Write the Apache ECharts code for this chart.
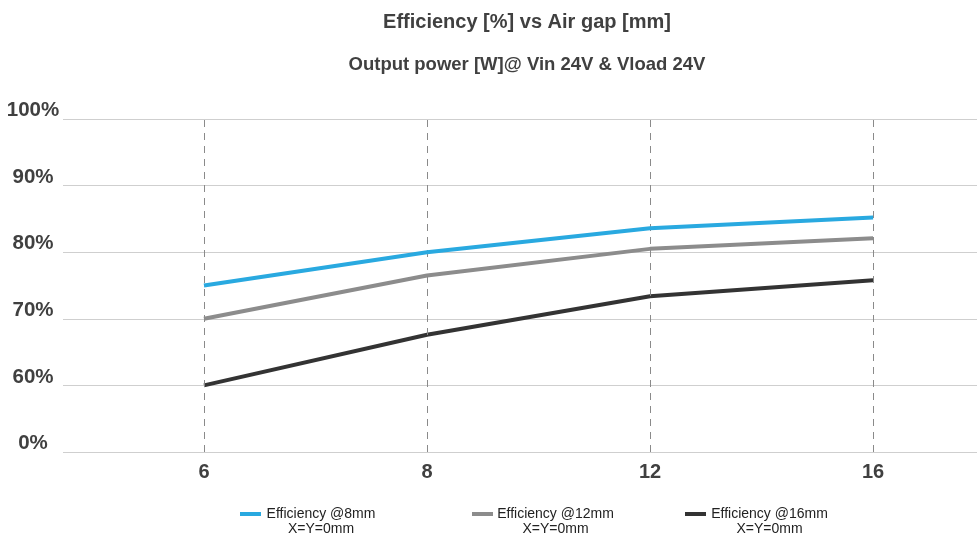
<!DOCTYPE html>
<html>
<head>
<meta charset="utf-8">
<script src="https://cdn.jsdelivr.net/npm/echarts@6/dist/echarts.min.js"></script>
<style>html,body{margin:0;padding:0;background:#fff}#c{width:977px;height:538px}</style>
</head>
<body>
<div id="c"></div>
<script>
var categories = ['6', '8', '12', '16'];
var seriesNames = ['Efficiency @8mm', 'Efficiency @12mm', 'Efficiency @16mm'];
var legendSubLine = 'X=Y=0mm';
var eff8 = [75, 80, 83.6, 85.2];
var eff12 = [70, 76.5, 80.5, 82.1];
var eff16 = [60, 67.6, 73.4, 75.8];
var yTicks = [50, 60, 70, 80, 90, 100];
var yTickLabels = ['0%', '60%', '70%', '80%', '90%', '100%'];

var FONT = "'Liberation Sans', Arial, sans-serif";
var colors = ['#29a9e0', '#8c8c8c', '#333333'];
var legendLeft = [240, 472, 685];
var legendTextWidth = [110, 115, 117];

function pts(arr) { return arr.map(function (v, i) { return [i, v]; }); }

var chart = echarts.init(document.getElementById('c'));
var dataSets = [eff8, eff12, eff16];
var series = dataSets.map(function (d, k) {
  var s = {
    name: seriesNames[k],
    type: 'line',
    data: pts(d),
    symbol: 'none',
    lineStyle: { width: 4, color: colors[k], cap: 'butt' },
    itemStyle: { color: colors[k] },
    z: 5 - k
  };
  if (k === 0) {
    s.markLine = {
      silent: true,
      symbol: 'none',
      label: { show: false },
      lineStyle: { type: [7, 6], color: '#8a8a8a', width: 1 },
      data: categories.map(function (c, i) { return { xAxis: i }; })
    };
  }
  return s;
});

var legends = seriesNames.map(function (n, k) {
  return {
    top: 487,
    left: legendLeft[k] - 5,
    itemWidth: 21,
    itemHeight: 4,
    itemGap: 0,
    icon: 'rect',
    selectedMode: false,
    data: [n],
    formatter: function (name) { return '{b| }\n{a|' + name + '}\n{a|' + legendSubLine + '}'; },
    textStyle: {
      fontFamily: FONT, fontSize: 14, color: '#222',
      rich: {
        a: { fontFamily: FONT, fontSize: 14, color: '#222', width: legendTextWidth[k], align: 'center', lineHeight: 15 },
        b: { fontSize: 14, lineHeight: 15 }
      }
    }
  };
});

chart.setOption({
  animation: false,
  title: [
    { text: 'Efficiency [%] vs Air gap [mm]', left: 522, top: 7, textAlign: 'center',
      textStyle: { fontFamily: FONT, fontSize: 20, fontWeight: 'bold', color: '#404040' } },
    { text: 'Output power [W]@ Vin 24V & Vload 24V', left: 522, top: 50, textAlign: 'center',
      textStyle: { fontFamily: FONT, fontSize: 18.5, fontWeight: 'bold', color: '#404040' } }
  ],
  grid: { left: 63, right: 0, top: 119, bottom: 86 },
  legend: legends,
  xAxis: {
    type: 'value',
    min: -0.632,
    max: 3.466,
    axisLine: { show: false },
    axisTick: { show: false },
    splitLine: { show: false },
    axisLabel: {
      customValues: [0, 1, 2, 3],
      formatter: function (v) { return categories[Math.round(v)]; },
      fontFamily: FONT, fontSize: 20, fontWeight: 'bold', color: '#404040', margin: 10
    }
  },
  yAxis: {
    type: 'value',
    min: 50,
    max: 100,
    interval: 10,
    axisLine: { show: false },
    axisTick: { show: false },
    splitLine: { lineStyle: { color: '#cfcfcf', width: 1 } },
    axisLabel: {
      formatter: function (v) { var i = yTicks.indexOf(v); return i >= 0 ? yTickLabels[i] : ''; },
      fontFamily: FONT, fontSize: 20.5, fontWeight: 'bold', color: '#404040',
      align: 'center', margin: 30, verticalAlign: 'bottom', padding: [0, 0, -2, 0]
    }
  },
  series: series
});
</script>
</body>
</html>
